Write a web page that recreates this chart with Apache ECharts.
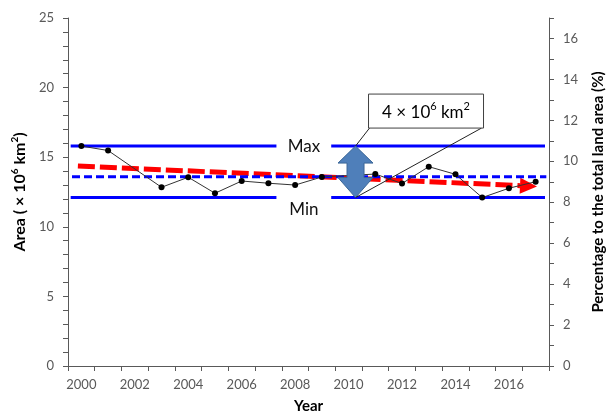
<!DOCTYPE html>
<html><head><meta charset="utf-8">
<script src="https://cdn.jsdelivr.net/npm/echarts@6/dist/echarts.min.js"></script>
<style>html,body{margin:0;padding:0;background:#fff}#c{width:611px;height:412px}</style>
</head><body><div id="c"></div>
<script>
// ---- data ----
const years = ['2000','2001','2002','2003','2004','2005','2006','2007','2008','2009','2010','2011','2012','2013','2014','2015','2016','2017'];
const area = [15.80, 15.48, null, 12.84, 13.56, 12.41, 13.29, 13.13, 13.00, 13.58, null, 13.79, 13.11, 14.32, 13.77, 12.10, 12.77, 13.24];
const maxArea = 15.8;
const minArea = 12.1;
const meanArea = 13.6;
const trendStart = [1999.87, 14.37];
const trendEnd = [2017.05, 12.90];
const refSpansLeft = [1999.6, 2007.3];
const refSpansRight = [2009.35, 2017.35];
const meanSpan = [1999.65, 2017.4];
const arrowYear = 2010.26;
const labelYear = 2008.33;
const areaAxis = {min: 0, max: 25, labelStep: 5};
const pctAxis = {min: 0, max: 17, labelStep: 2};

const FONT = 'Lato';
const chart = echarts.init(document.getElementById('c'), null, {renderer: 'canvas'});

function spanLine(v) {
  return [[refSpansLeft[0], v], [refSpansLeft[1], v], [(refSpansLeft[1] + refSpansRight[0]) / 2, '-'], [refSpansRight[0], v], [refSpansRight[1], v]];
}

const option = {
  backgroundColor: '#fff',
  animation: false,
  grid: {left: 68, right: 62, top: 18, bottom: 46, outerBoundsMode: 'none'},
  xAxis: [{
    type: 'category', data: years, boundaryGap: true,
    name: 'Year', nameLocation: 'middle', nameGap: 33,
    nameTextStyle: {fontFamily: FONT, fontSize: 15, fontWeight: 'bold', color: '#000'},
    axisLine: {lineStyle: {color: '#595959', width: 1}},
    axisTick: {show: true, interval: 0, length: 5, lineStyle: {color: '#595959'}},
    axisLabel: {interval: 1, fontFamily: FONT, fontSize: 13, color: '#595959', margin: 12},
    splitLine: {show: false}
  }, {
    type: 'value', min: 1999.5, max: 2017.5, show: false
  }],
  yAxis: [{
    type: 'value', min: areaAxis.min, max: areaAxis.max, interval: 1, position: 'left',
    name: '{b|Area ( × 10}{s|6}{b| km}{s|2}{b|)}', nameLocation: 'middle', nameGap: 32, nameRotate: 90,
    nameTextStyle: {rich: {
      b: {fontFamily: FONT, fontSize: 16, fontWeight: 'bold', color: '#000', lineHeight: 20},
      s: {fontFamily: FONT, fontSize: 10, fontWeight: 'bold', color: '#000', verticalAlign: 'top', lineHeight: 12}
    }},
    axisLine: {show: true, lineStyle: {color: '#595959', width: 1}},
    axisTick: {show: true, length: 5, lineStyle: {color: '#595959'}},
    axisLabel: {fontFamily: FONT, fontSize: 13, color: '#595959', margin: 14,
      formatter: v => (v % areaAxis.labelStep === 0 ? String(v) : '')},
    splitLine: {show: false}
  }, {
    type: 'value', min: pctAxis.min, max: pctAxis.max, interval: 1, position: 'right',
    name: 'Percentage to the total land area (%)', nameLocation: 'middle', nameGap: 42, nameRotate: 90,
    nameTextStyle: {fontFamily: FONT, fontSize: 15, fontWeight: 'bold', color: '#000'},
    axisLine: {show: true, lineStyle: {color: '#595959', width: 1}},
    axisTick: {show: true, length: 5, lineStyle: {color: '#595959'}},
    axisLabel: {fontFamily: FONT, fontSize: 13, color: '#595959', margin: 14,
      formatter: v => (v % pctAxis.labelStep === 0 && v < pctAxis.max ? String(v) : '')},
    splitLine: {show: false}
  }],
  series: [
    { // trend line with arrowhead
      type: 'custom', xAxisIndex: 1, yAxisIndex: 0, z: 2,
      data: [[trendStart[0], trendStart[1], trendEnd[0], trendEnd[1]]],
      renderItem: (params, api) => {
        const p0 = api.coord([api.value(0), api.value(1)]);
        const p1 = api.coord([api.value(2), api.value(3)]);
        const dx = p1[0] - p0[0], dy = p1[1] - p0[1];
        const L = Math.hypot(dx, dy), ux = dx / L, uy = dy / L;
        const headL = 17, headW = 8;
        const base = [p1[0] - ux * headL, p1[1] - uy * headL];
        return {type: 'group', children: [
          {type: 'polyline', shape: {points: [p0, base]},
            style: {stroke: '#ff0000', lineWidth: 5, lineDash: [17, 5], fill: null}},
          {type: 'polygon', shape: {points: [p1, [base[0] - uy * headW, base[1] + ux * headW], [base[0] + uy * headW, base[1] - ux * headW]]},
            style: {fill: '#ff0000'}}
        ]};
      }
    },
    { // mean
      type: 'line', xAxisIndex: 1, yAxisIndex: 0, z: 3, symbol: 'none',
      data: [[meanSpan[0], meanArea], [meanSpan[1], meanArea]],
      lineStyle: {color: '#0000ff', width: 3, type: [8, 4]}
    },
    { // max
      type: 'line', xAxisIndex: 1, yAxisIndex: 0, z: 3, symbol: 'none',
      data: spanLine(maxArea), lineStyle: {color: '#0000ff', width: 3}
    },
    { // min
      type: 'line', xAxisIndex: 1, yAxisIndex: 0, z: 3, symbol: 'none',
      data: spanLine(minArea), lineStyle: {color: '#0000ff', width: 3}
    },
    { // observed area
      type: 'line', xAxisIndex: 0, yAxisIndex: 0, z: 4, data: area, connectNulls: true,
      symbol: 'circle', symbolSize: 6, itemStyle: {color: '#000'},
      lineStyle: {color: '#333', width: 1}
    },
    { // double arrow + callout + labels
      type: 'custom', xAxisIndex: 1, yAxisIndex: 0, z: 5,
      data: [[arrowYear, maxArea, minArea, labelYear]],
      renderItem: (params, api) => {
        const top = api.coord([api.value(0), api.value(1)]);
        const bot = api.coord([api.value(0), api.value(2)]);
        const cx = top[0], t = top[1], b = bot[1];
        const hw = 17.5, sw = 8.5, hl = 17;
        const pts = [[cx, t], [cx + hw, t + hl], [cx + sw, t + hl], [cx + sw, b - hl - 3], [cx + hw, b - hl - 3], [cx, b],
          [cx - hw, b - hl - 3], [cx - sw, b - hl - 3], [cx - sw, t + hl], [cx - hw, t + hl]];
        const bx = cx + 13, by = t - 52, bw = 115, bh = 34;
        const lmax = api.coord([api.value(3), api.value(1)]);
        const lmin = api.coord([api.value(3), api.value(2)]);
        return {type: 'group', children: [
          {type: 'polygon', shape: {points: pts}, style: {fill: '#4f7fba', stroke: '#3a6697', lineWidth: 1}},
          {type: 'line', shape: {x1: bx + 1, y1: by + bh, x2: cx, y2: t}, style: {stroke: '#222', lineWidth: 1}},
          {type: 'line', shape: {x1: bx + bw - 2, y1: by + bh, x2: cx, y2: b}, style: {stroke: '#222', lineWidth: 1}},
          {type: 'rect', shape: {x: bx, y: by, width: bw, height: bh}, style: {fill: '#fff', stroke: '#404040', lineWidth: 1}},
          {type: 'text', x: bx + bw / 2, y: by + bh / 2 + 1, style: {
            text: '{a|4 × 10}{s|6}{a| km}{s|2}', align: 'center', verticalAlign: 'middle',
            rich: {a: {fontFamily: FONT, fontSize: 17, color: '#111', lineHeight: 22},
                   s: {fontFamily: FONT, fontSize: 11, color: '#111', verticalAlign: 'top', lineHeight: 14}}}},
          {type: 'text', x: lmax[0], y: lmax[1], style: {text: 'Max', fontFamily: FONT, fontSize: 17, fill: '#111', align: 'center', verticalAlign: 'middle'}},
          {type: 'text', x: lmin[0], y: lmin[1] + 12, style: {text: 'Min', fontFamily: FONT, fontSize: 17, fill: '#111', align: 'center', verticalAlign: 'middle'}}
        ]};
      }
    }
  ]
};
chart.setOption(option);
</script>
</body></html>
